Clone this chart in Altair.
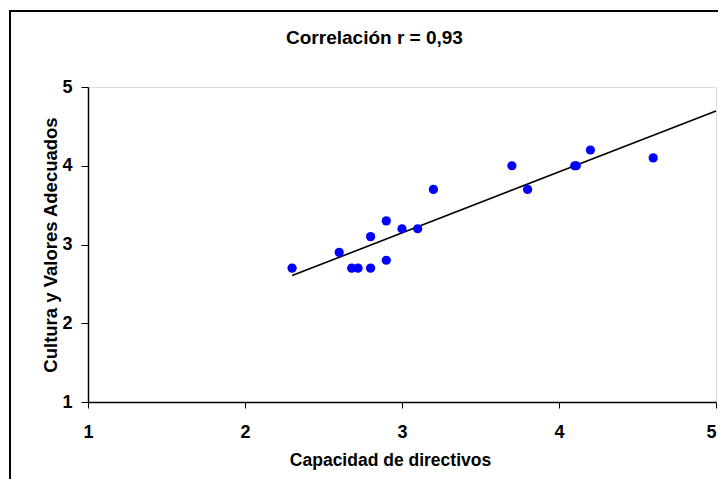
import altair as alt
import pandas as pd

capacidad = [2.3, 2.6, 2.68, 2.72, 2.8, 2.8, 2.9, 2.9, 3.0, 3.1, 3.2, 3.7, 3.8, 4.1, 4.11, 4.2, 4.6]
cultura = [2.7, 2.9, 2.7, 2.7, 3.1, 2.7, 3.3, 2.8, 3.2, 3.2, 3.7, 4.0, 3.7, 4.0, 4.0, 4.2, 4.1]
x_ticks = [1, 2, 3, 4, 5]
y_ticks = [1, 2, 3, 4, 5]
titulo = "Correlación r = 0,93"

df = pd.DataFrame({"x": capacidad, "y": cultura})
FONT = "Liberation Sans"
FS = 18

xscale = alt.Scale(domain=[1, 5], nice=False, zero=False)
yscale = alt.Scale(domain=[1, 5], nice=False, zero=False)

xaxis = alt.Axis(values=x_ticks, format="d", title="Capacidad de directivos", grid=False,
                 domainColor="black", domainWidth=1.5, tickColor="black", tickSize=6,
                 labelFlush=False, labelAlign={"expr": "datum.value == 5 ? 'right' : 'center'"},
                 labelPadding=15, labelFontSize=FS, labelFontWeight="bold",
                 labelFont=FONT, labelColor="black", titleFontSize=17.5, titleFontWeight="bold",
                 titleFont=FONT, titleColor="black", titlePadding=10, titleX=302)
yaxis = alt.Axis(values=y_ticks, format="d", title="Cultura y Valores Adecuados", grid=False,
                 domainColor="black", domainWidth=1.5, tickColor="black", tickSize=7,
                 labelFlush=False, labelPadding=9, labelFontSize=FS, labelFontWeight="bold",
                 labelFont=FONT, labelColor="black", titleFontSize=18.5, titleFontWeight="bold",
                 titleFont=FONT, titleColor="black", titlePadding=1)

base = alt.Chart(df)

frame = base.mark_rect(fill="transparent", stroke="black", strokeWidth=2, clip=False).encode(
    x=alt.value(-78), x2=alt.value(660), y=alt.value(-76), y2=alt.value(420)
)

title_mark = alt.Chart(pd.DataFrame({"t": [titulo]})).mark_text(
    font=FONT, fontSize=19, fontWeight="bold", color="black", align="center", baseline="middle"
).encode(text="t:N", x=alt.value(286.5), y=alt.value(-49))

points = base.mark_circle(size=85, color="#0000FF", opacity=1).encode(
    x=alt.X("x:Q", scale=xscale, axis=xaxis),
    y=alt.Y("y:Q", scale=yscale, axis=yaxis),
)

line = base.transform_regression("x", "y", extent=[2.3, 5]).mark_line(
    color="black", strokeWidth=1.6
).encode(
    x=alt.X("x:Q", scale=xscale),
    y=alt.Y("y:Q", scale=yscale),
)

chart = alt.layer(frame, title_mark, line, points).properties(
    width=628, height=315,
    autosize=alt.AutoSizeParams(type="none"),
    padding={"left": 80, "top": 79, "right": 2, "bottom": 77},
).configure_view(stroke="#999999", strokeWidth=1.5).configure(background="white")

chart.save("out.html", embed_options={"renderer": "svg", "actions": False})
